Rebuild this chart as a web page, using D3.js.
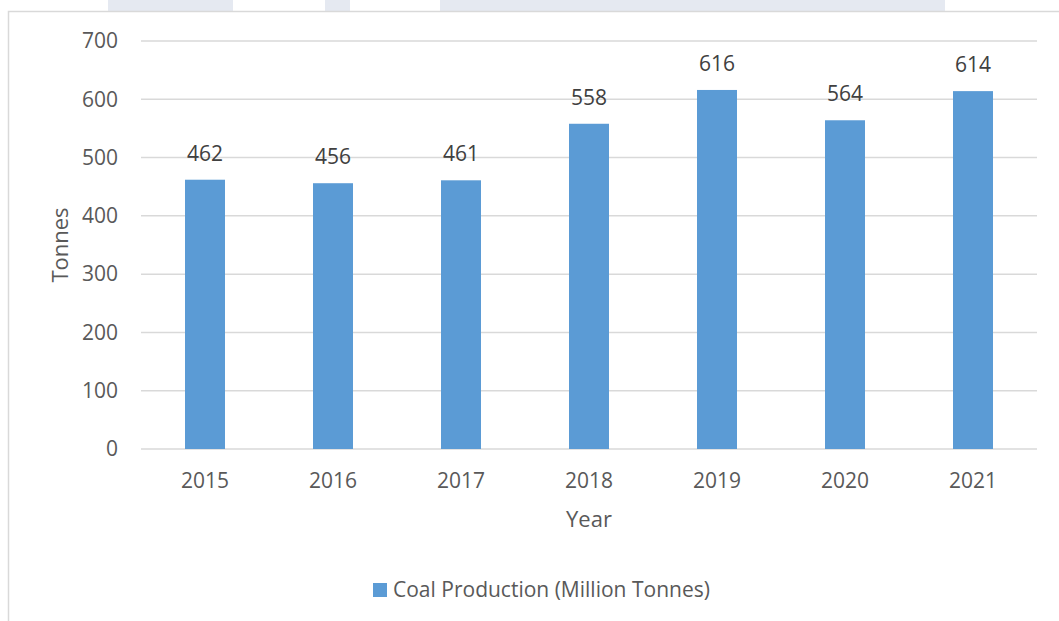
<!DOCTYPE html>
<html>
<head>
<meta charset="utf-8">
<script src="https://cdn.jsdelivr.net/npm/d3@7"></script>
<style>
  body { margin: 0; background: #fff; }
  text { font-family: "Open Sans", sans-serif; fill: #595959; }
</style>
</head>
<body>
<div id="chart"></div>
<script>
const years = ['2015', '2016', '2017', '2018', '2019', '2020', '2021']
const production = [462, 456, 461, 558, 616, 564, 614]
const yTicks = [0, 100, 200, 300, 400, 500, 600, 700]
const seriesName = 'Coal Production (Million Tonnes)'

const width = 1059
const height = 621
const margins = { top: 41, right: 22, bottom: 172, left: 141 }

const svg = d3.select('#chart').append('svg')
    .attr('width', width)
    .attr('height', height)

// light page strips peeking above the chart frame
const strips = [[108, 233], [325, 350], [440, 945]]
svg.append('g')
    .selectAll('rect')
    .data(strips)
    .join('rect')
    .attr('x', d => d[0])
    .attr('y', 0)
    .attr('width', d => d[1] - d[0])
    .attr('height', 11)
    .attr('fill', '#e5e9f1')

// chart frame (only top + left edges visible)
svg.append('path')
    .attr('d', 'M8.5,621 V11.5 H1059')
    .attr('fill', 'none')
    .attr('stroke', '#d9d9d9')
    .attr('stroke-width', 1.5)

const xScale = d3.scaleBand()
    .domain(years)
    .range([margins.left, width - margins.right])
    .paddingInner(0.6875)
    .paddingOuter(0.34375)

const yScale = d3.scaleLinear()
    .domain([0, 700])
    .range([height - margins.bottom, margins.top])

// grid
svg.append('g')
    .selectAll('line')
    .data(yTicks)
    .join('line')
    .attr('x1', margins.left)
    .attr('x2', width - margins.right)
    .attr('y1', d => yScale(d))
    .attr('y2', d => yScale(d))
    .attr('stroke', '#d9d9d9')
    .attr('stroke-width', 1.5)

// y tick labels
svg.append('g')
    .selectAll('text')
    .data(yTicks)
    .join('text')
    .attr('x', 118)
    .attr('y', d => yScale(d))
    .attr('dy', '0.35em')
    .attr('text-anchor', 'end')
    .style('font-size', '21px')
    .text(d => d)

// bars
svg.append('g')
    .selectAll('rect')
    .data(production)
    .join('rect')
    .attr('x', (d, i) => xScale(years[i]))
    .attr('width', xScale.bandwidth())
    .attr('y', d => yScale(d))
    .attr('height', d => yScale(0) - yScale(d))
    .attr('fill', '#5b9bd5')

// data labels
svg.append('g')
    .selectAll('text')
    .data(production)
    .join('text')
    .attr('x', (d, i) => xScale(years[i]) + xScale.bandwidth() / 2)
    .attr('y', d => yScale(d) - 19)
    .attr('text-anchor', 'middle')
    .style('font-size', '21px')
    .style('fill', '#404040')
    .text(d => d)

// x tick labels
svg.append('g')
    .selectAll('text')
    .data(years)
    .join('text')
    .attr('x', d => xScale(d) + xScale.bandwidth() / 2)
    .attr('y', 481)
    .attr('dy', '0.35em')
    .attr('text-anchor', 'middle')
    .style('font-size', '21px')
    .text(d => d)

// axis titles
svg.append('text')
    .attr('x', (margins.left + width - margins.right) / 2)
    .attr('y', 519)
    .attr('dy', '0.35em')
    .attr('text-anchor', 'middle')
    .style('font-size', '22px')
    .text('Year')

svg.append('text')
    .attr('transform', 'translate(60,245) rotate(-90)')
    .attr('dy', '0.35em')
    .attr('text-anchor', 'middle')
    .style('font-size', '22px')
    .text('Tonnes')

// legend
const legend = svg.append('g').attr('transform', 'translate(373,583)')
legend.append('rect')
    .attr('width', 14)
    .attr('height', 14)
    .attr('fill', '#5b9bd5')
legend.append('text')
    .attr('x', 20)
    .attr('y', 7)
    .attr('dy', '0.35em')
    .style('font-size', '21px')
    .text(seriesName)
</script>
</body>
</html>
